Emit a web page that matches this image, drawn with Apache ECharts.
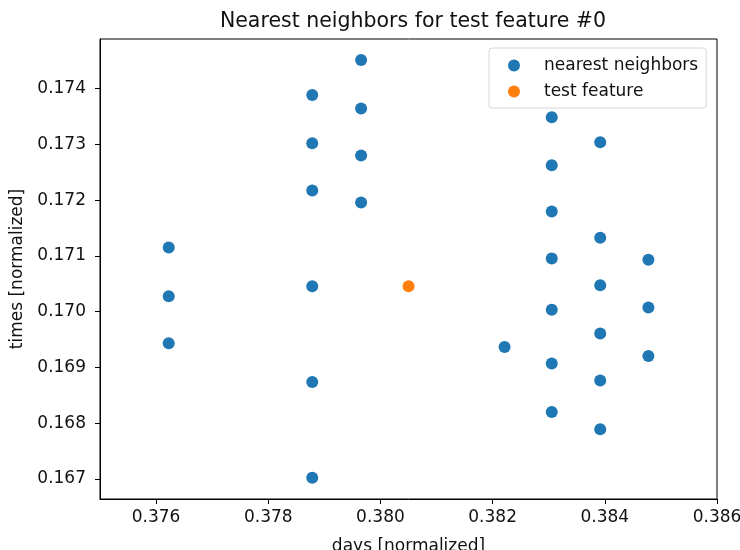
<!DOCTYPE html>
<html>
<head>
<meta charset="utf-8">
<script src="https://cdn.jsdelivr.net/npm/echarts@6/dist/echarts.min.js"></script>
<style>
  html, body { margin: 0; padding: 0; background: #fff; }
  #chart { width: 740px; height: 550px; }
</style>
</head>
<body>
<div id="chart"></div>
<script>
// neighbors: [days, times]
const neighborDays = [
  0.376225, 0.376225, 0.376225,
  0.378784, 0.378784, 0.378784, 0.378784, 0.378784, 0.378784,
  0.379655, 0.379655, 0.379655, 0.379655,
  0.382213,
  0.383054, 0.383054, 0.383054, 0.383054, 0.383054, 0.383054, 0.383054,
  0.383918, 0.383918, 0.383918, 0.383918, 0.383918, 0.383918,
  0.384777, 0.384777, 0.384777
];
const neighborTimes = [
  0.171151, 0.170278, 0.169435,
  0.173887, 0.173020, 0.172172, 0.170457, 0.168737, 0.167023,
  0.174514, 0.173642, 0.172799, 0.171957,
  0.169364,
  0.173486, 0.172625, 0.171796, 0.170953, 0.170034, 0.169072, 0.168199,
  0.173038, 0.171324, 0.170475, 0.169609, 0.168767, 0.167889,
  0.170930, 0.170075, 0.169203
];
const testDays = [0.380501];
const testTimes = [0.170457];

const xTicks = [0.376, 0.378, 0.380, 0.382, 0.384, 0.386];
const yTicks = [0.167, 0.168, 0.169, 0.170, 0.171, 0.172, 0.173, 0.174];

const font = 'DejaVu Sans';
const ink = '#111';

const chart = echarts.init(document.getElementById('chart'));

const axisCommon = {
  type: 'value',
  nameLocation: 'middle',
  nameTextStyle: { fontFamily: font, fontSize: 17, color: ink },
  axisLine: { show: true, lineStyle: { color: '#000', width: 1 } },
  axisTick: { show: true, length: 5, lineStyle: { color: '#000' } },
  axisLabel: { fontFamily: font, fontSize: 17, color: ink, formatter: v => v.toFixed(3) },
  splitLine: { show: false }
};

chart.setOption({
  animation: false,
  title: {
    text: 'Nearest neighbors for test feature #0',
    left: 408,
    top: 6,
    textAlign: 'center',
    textStyle: { fontFamily: font, fontSize: 20.5, fontWeight: 'normal', color: ink }
  },
  grid: {
    left: 100, right: 23, top: 39, bottom: 51,
    outerBoundsMode: 'none',
    show: true, borderColor: '#000', borderWidth: 1
  },
  legend: {
    left: 489, top: 48,
    orient: 'vertical',
    padding: [9, 8, 8, 19],
    itemWidth: 50, itemHeight: 12, itemGap: 9,
    icon: 'circle',
    backgroundColor: 'rgba(255,255,255,0.8)',
    borderColor: '#d6d6d6', borderWidth: 1, borderRadius: 3,
    textStyle: { fontFamily: font, fontSize: 17, color: ink, lineHeight: 16 },
    data: ['nearest neighbors', 'test feature']
  },
  xAxis: Object.assign({}, axisCommon, {
    min: 0.375, max: 0.386,
    name: 'days [normalized]', nameGap: 39,
    axisTick: Object.assign({}, axisCommon.axisTick, { customValues: xTicks }),
    axisLabel: Object.assign({}, axisCommon.axisLabel, { customValues: xTicks, margin: 10 })
  }),
  yAxis: Object.assign({}, axisCommon, {
    min: 0.16664, max: 0.17489,
    name: 'times [normalized]', nameGap: 74,
    axisTick: Object.assign({}, axisCommon.axisTick, { customValues: yTicks }),
    axisLabel: Object.assign({}, axisCommon.axisLabel, { customValues: yTicks, margin: 14 })
  }),
  series: [
    {
      name: 'nearest neighbors',
      type: 'scatter',
      symbolSize: 12,
      itemStyle: { color: '#1f77b4', opacity: 1 },
      data: neighborDays.map((d, i) => [d, neighborTimes[i]])
    },
    {
      name: 'test feature',
      type: 'scatter',
      symbolSize: 12,
      itemStyle: { color: '#ff7f0e', opacity: 1 },
      data: testDays.map((d, i) => [d, testTimes[i]])
    }
  ]
});
</script>
</body>
</html>
